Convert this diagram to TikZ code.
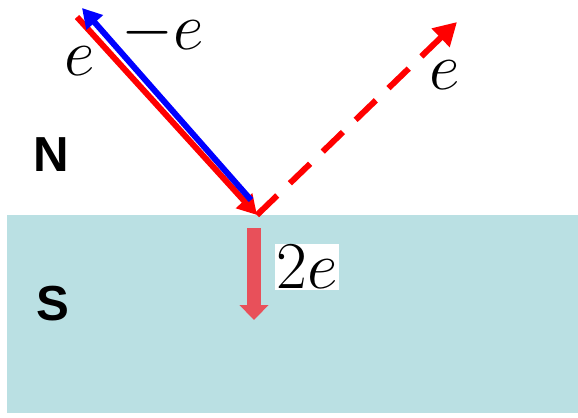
\documentclass[tikz,border=0pt]{standalone}
\usepackage{graphicx}
\usepackage{fontspec}
\newfontfamily\labelfont{Liberation Sans}
\usetikzlibrary{arrows.meta}
\definecolor{scblue}{HTML}{BAE0E3}
\definecolor{pairred}{HTML}{E8505A}
\newcommand{\chargetext}[1]{\scalebox{1.53}{\Huge$#1$}}
\begin{document}
\begin{tikzpicture}[
  x=0.02cm, y=-0.02cm,
  region/.style={font=\labelfont\bfseries\fontsize{28}{30}\selectfont},
  charge/.style={inner sep=0pt},
  electron/.style={red, line width=3.4pt, -{Triangle[length=11pt, width=12pt]}},
  hole/.style={blue, line width=3.4pt, -{Triangle[length=11pt, width=12pt]}},
  reflected/.style={red, line width=3.4pt, dash pattern=on 16pt off 10pt, -{Triangle[length=13pt, width=14pt]}},
  pair/.style={pairred, line width=8pt, -{Triangle[length=8.5pt, width=16pt]}}
]
\useasboundingbox (0,0) rectangle (578,417);

% Superconductor at the bottom
\fill[scblue] (7,215) rectangle (578,413);

% Regions
\node[region] (N) at (51,155) {N};
\node[region] (S) at (53,304) {S};

% Points of the paths
\coordinate (O) at (257,215);
\coordinate (inStart) at (77,17);
\coordinate (holeStart) at (251,200);
\coordinate (holeEnd) at (82,8);
\coordinate (outEnd) at (457,22);
\coordinate (pairStart) at (254,228);
\coordinate (pairEnd) at (254,320);

% Arrows
\draw[electron] (inStart) -- (O);
\draw[hole] (holeStart) -- (holeEnd);
\draw[reflected] (O) -- (outEnd);
\draw[pair] (pairStart) -- (pairEnd);

% Labels
\node[charge] (eIn) at (80,61) {\chargetext{e}};
\node[charge] (eHole) at (163,33) {\chargetext{-e}};
\node[charge] (eOut) at (445,75) {\chargetext{e}};
\node[charge, fill=white, inner sep=1pt] (ePair) at (307,267) {\chargetext{2e}};

\end{tikzpicture}
\end{document}
